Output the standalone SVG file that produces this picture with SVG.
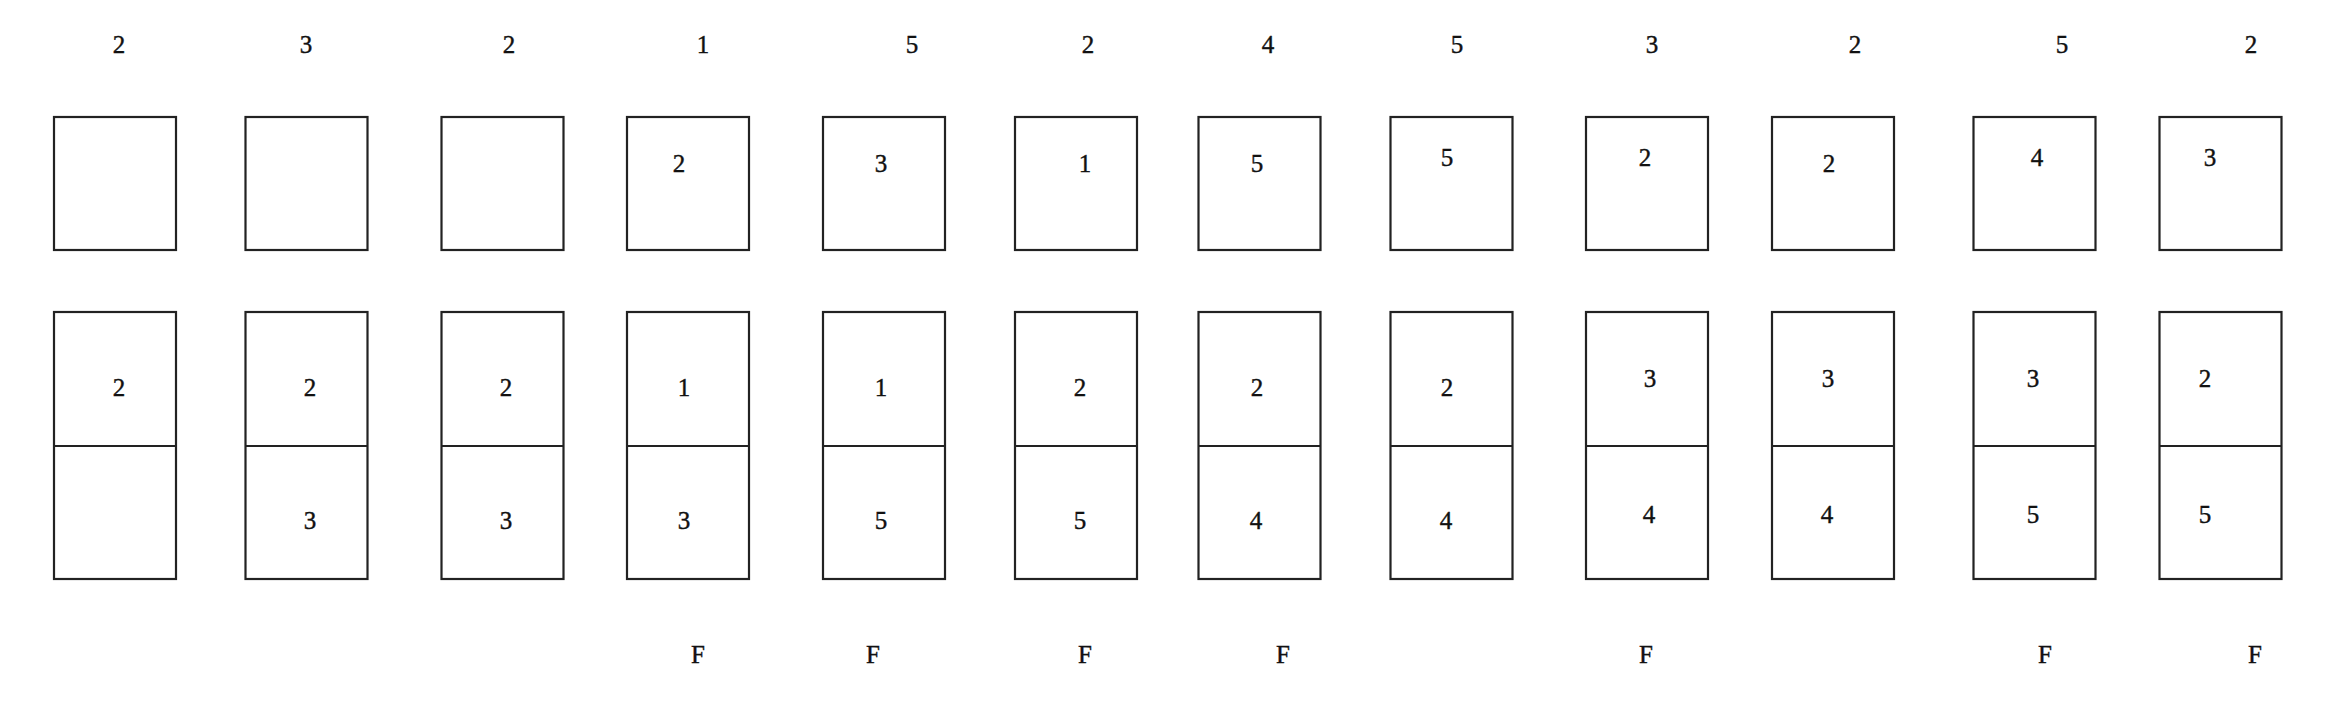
<svg xmlns="http://www.w3.org/2000/svg" width="2330" height="718" viewBox="0 0 2330 718">
<style>
.b{fill:#fff;stroke:#222;stroke-width:2.2}
.t{font-family:"Liberation Serif",serif;font-size:25px;fill:#111;stroke:#111;stroke-width:0.4;text-anchor:middle}
</style>
<rect width="2330" height="718" fill="#fff"/>
<g id="col1">
<text class="t" x="119" y="53">2</text>
<rect class="b" x="54" y="117" width="122" height="133"/>
<rect class="b" x="54" y="312" width="122" height="267"/><line class="b" x1="54" y1="446" x2="176" y2="446"/>
<text class="t" x="119" y="396">2</text>
</g>
<g id="col2">
<text class="t" x="306" y="53">3</text>
<rect class="b" x="245.5" y="117" width="122" height="133"/>
<rect class="b" x="245.5" y="312" width="122" height="267"/><line class="b" x1="245.5" y1="446" x2="367.5" y2="446"/>
<text class="t" x="310" y="396">2</text>
<text class="t" x="310" y="529">3</text>
</g>
<g id="col3">
<text class="t" x="509" y="53">2</text>
<rect class="b" x="441.5" y="117" width="122" height="133"/>
<rect class="b" x="441.5" y="312" width="122" height="267"/><line class="b" x1="441.5" y1="446" x2="563.5" y2="446"/>
<text class="t" x="506" y="396">2</text>
<text class="t" x="506" y="529">3</text>
</g>
<g id="col4">
<text class="t" x="703" y="53">1</text>
<rect class="b" x="627" y="117" width="122" height="133"/>
<text class="t" x="679" y="172">2</text>
<rect class="b" x="627" y="312" width="122" height="267"/><line class="b" x1="627" y1="446" x2="749" y2="446"/>
<text class="t" x="684" y="396">1</text>
<text class="t" x="684" y="529">3</text>
<text class="t" x="698" y="663">F</text>
</g>
<g id="col5">
<text class="t" x="912" y="53">5</text>
<rect class="b" x="823" y="117" width="122" height="133"/>
<text class="t" x="881" y="172">3</text>
<rect class="b" x="823" y="312" width="122" height="267"/><line class="b" x1="823" y1="446" x2="945" y2="446"/>
<text class="t" x="881" y="396">1</text>
<text class="t" x="881" y="529">5</text>
<text class="t" x="873" y="663">F</text>
</g>
<g id="col6">
<text class="t" x="1088" y="53">2</text>
<rect class="b" x="1015" y="117" width="122" height="133"/>
<text class="t" x="1085" y="172">1</text>
<rect class="b" x="1015" y="312" width="122" height="267"/><line class="b" x1="1015" y1="446" x2="1137" y2="446"/>
<text class="t" x="1080" y="396">2</text>
<text class="t" x="1080" y="529">5</text>
<text class="t" x="1085" y="663">F</text>
</g>
<g id="col7">
<text class="t" x="1268" y="53">4</text>
<rect class="b" x="1198.5" y="117" width="122" height="133"/>
<text class="t" x="1257" y="172">5</text>
<rect class="b" x="1198.5" y="312" width="122" height="267"/><line class="b" x1="1198.5" y1="446" x2="1320.5" y2="446"/>
<text class="t" x="1257" y="396">2</text>
<text class="t" x="1256" y="529">4</text>
<text class="t" x="1283" y="663">F</text>
</g>
<g id="col8">
<text class="t" x="1457" y="53">5</text>
<rect class="b" x="1390.5" y="117" width="122" height="133"/>
<text class="t" x="1447" y="166">5</text>
<rect class="b" x="1390.5" y="312" width="122" height="267"/><line class="b" x1="1390.5" y1="446" x2="1512.5" y2="446"/>
<text class="t" x="1447" y="396">2</text>
<text class="t" x="1446" y="529">4</text>
</g>
<g id="col9">
<text class="t" x="1652" y="53">3</text>
<rect class="b" x="1586" y="117" width="122" height="133"/>
<text class="t" x="1645" y="166">2</text>
<rect class="b" x="1586" y="312" width="122" height="267"/><line class="b" x1="1586" y1="446" x2="1708" y2="446"/>
<text class="t" x="1650" y="387">3</text>
<text class="t" x="1649" y="523">4</text>
<text class="t" x="1646" y="663">F</text>
</g>
<g id="col10">
<text class="t" x="1855" y="53">2</text>
<rect class="b" x="1772" y="117" width="122" height="133"/>
<text class="t" x="1829" y="172">2</text>
<rect class="b" x="1772" y="312" width="122" height="267"/><line class="b" x1="1772" y1="446" x2="1894" y2="446"/>
<text class="t" x="1828" y="387">3</text>
<text class="t" x="1827" y="523">4</text>
</g>
<g id="col11">
<text class="t" x="2062" y="53">5</text>
<rect class="b" x="1973.5" y="117" width="122" height="133"/>
<text class="t" x="2037" y="166">4</text>
<rect class="b" x="1973.5" y="312" width="122" height="267"/><line class="b" x1="1973.5" y1="446" x2="2095.5" y2="446"/>
<text class="t" x="2033" y="387">3</text>
<text class="t" x="2033" y="523">5</text>
<text class="t" x="2045" y="663">F</text>
</g>
<g id="col12">
<text class="t" x="2251" y="53">2</text>
<rect class="b" x="2159.5" y="117" width="122" height="133"/>
<text class="t" x="2210" y="166">3</text>
<rect class="b" x="2159.5" y="312" width="122" height="267"/><line class="b" x1="2159.5" y1="446" x2="2281.5" y2="446"/>
<text class="t" x="2205" y="387">2</text>
<text class="t" x="2205" y="523">5</text>
<text class="t" x="2255" y="663">F</text>
</g>
<g id="connectors"/>
</svg>
